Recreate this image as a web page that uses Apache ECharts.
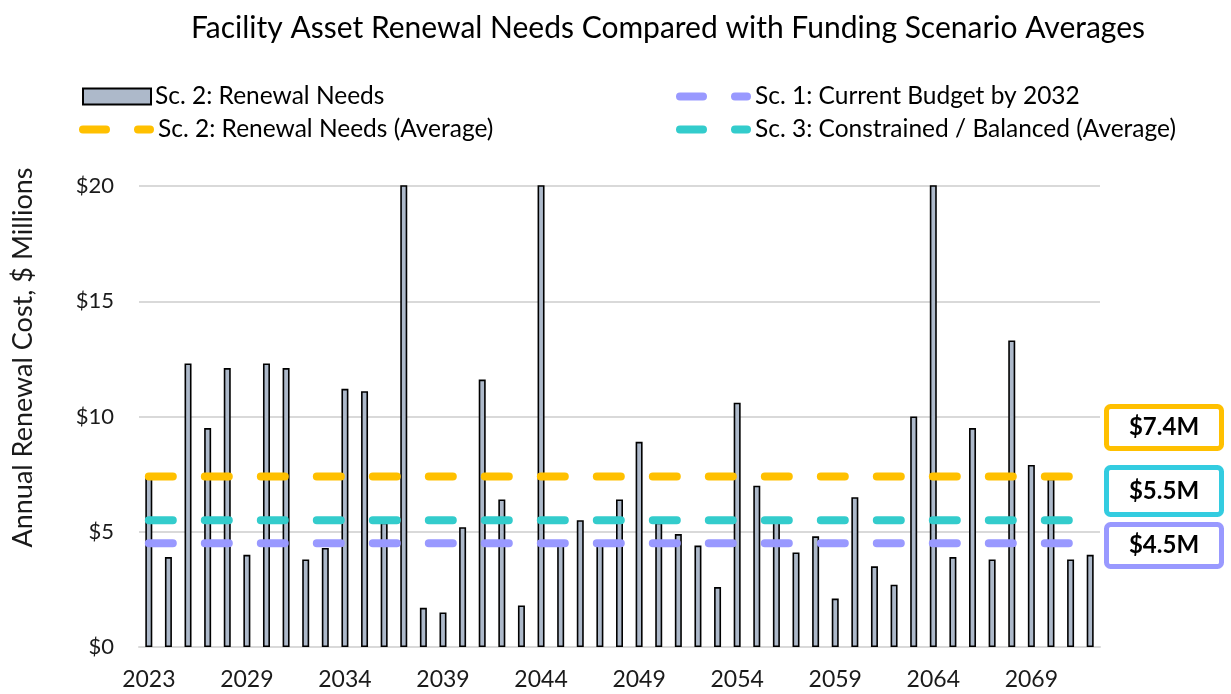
<!DOCTYPE html>
<html>
<head>
<meta charset="utf-8">
<script src="https://cdn.jsdelivr.net/npm/echarts@6/dist/echarts.min.js"></script>
<style>
  html, body { margin: 0; padding: 0; background: #fff; }
  #chart { width: 1231px; height: 694px; }
</style>
</head>
<body>
<div id="chart"></div>
<script>
// Renewal years (category axis)
const years = ['2023'];
for (let y = 2025; y <= 2072; y++) years.push(String(y));

// Annual renewal needs, $ millions (values above 20 run off the top of the axis)
const renewalNeeds = [
  7.4, 3.9, 12.3, 9.5, 12.1, 4.0, 12.3, 12.1, 3.8, 4.3,
  11.2, 11.1, 5.4, 24.0, 1.7, 1.5, 5.2, 11.6, 6.4, 1.8,
  24.0, 4.6, 5.5, 4.6, 6.4, 8.9, 5.4, 4.9, 4.4, 2.6,
  10.6, 7.0, 5.6, 4.1, 4.8, 2.1, 6.5, 3.5, 2.7, 10.0,
  24.0, 3.9, 9.5, 3.8, 13.3, 7.9, 7.3, 3.8, 4.0
];

// Scenario averages, $ millions
const avgRenewalNeeds = 7.4;
const avgCurrentBudget = 4.5;
const avgConstrained = 5.5;

const seriesNames = [
  'Sc. 2: Renewal Needs',
  'Sc. 2: Renewal Needs (Average)',
  'Sc. 1: Current Budget by 2032',
  'Sc. 3: Constrained / Balanced (Average)'
];

const yTicks = [0, 5, 10, 15, 20];

const FONT = 'Lato, "Noto Sans", sans-serif';
const YELLOW = '#FFC000';
const TEAL = '#33CCCC';
const TEAL_BOX = '#33CCE0';
const PURPLE = '#9999FF';
const BAR_FILL = '#ADB9CA';

// Legend glyph for the dashed average lines: one long and one short rounded dash
const DASH_ICON = 'path://M4,0H27A4,4,0,0,1,27,8H4A4,4,0,0,1,4,0ZM59,0H71A4,4,0,0,1,71,8H59A4,4,0,0,1,59,0Z';

const chart = echarts.init(document.getElementById('chart'), null, { renderer: 'canvas' });

function avgLine(name, value, color) {
  return {
    name: name,
    type: 'line',
    data: [[years[0], value], [years[years.length - 1], value]],
    showSymbol: false,
    symbol: 'none',
    silent: true,
    z: 3,
    lineStyle: { color: color, width: 8, type: [24, 32], cap: 'round' },
    itemStyle: { color: color }
  };
}

function legendAt(name, left, top, isBar) {
  return {
    data: [name],
    left: left,
    top: top,
    orient: 'horizontal',
    itemWidth: isBar ? 68 : 75,
    itemHeight: isBar ? 16 : 8,
    itemGap: 0,
    padding: 0,
    icon: isBar ? 'rect' : DASH_ICON,
    selectedMode: false,
    textStyle: { fontFamily: FONT, fontSize: 24.5, color: '#000', padding: [0, 0, 0, -1] },
    itemStyle: isBar ? { borderColor: '#000', borderWidth: 2 } : { borderWidth: 0 }
  };
}

function valueBox(value, color, top, height) {
  return {
    type: 'group',
    left: 1104,
    top: top,
    children: [
      {
        type: 'rect',
        shape: { x: 2.5, y: 2.5, width: 115, height: height - 5, r: 4 },
        style: { fill: '#fff', stroke: color, lineWidth: 5 }
      },
      {
        type: 'text',
        x: 60,
        y: height / 2,
        style: {
          text: '$' + value.toFixed(1) + 'M',
          fontFamily: FONT,
          fontWeight: 'bold',
          fontSize: 24,
          fill: '#000',
          align: 'center',
          verticalAlign: 'middle'
        }
      }
    ]
  };
}

const option = {
  backgroundColor: '#fff',
  animation: false,
  title: {
    text: 'Facility Asset Renewal Needs Compared with Funding Scenario Averages',
    left: 663,
    textAlign: 'center',
    top: 8,
    textStyle: { fontFamily: FONT, fontSize: 30, fontWeight: 'normal', color: '#000' }
  },
  legend: [
    legendAt(seriesNames[0], 82, 84, true),
    legendAt(seriesNames[1], 79, 117, false),
    legendAt(seriesNames[2], 676, 84, false),
    legendAt(seriesNames[3], 676, 117, false)
  ],
  grid: { left: 139, right: 131, top: 186, bottom: 47, containLabel: false },
  xAxis: {
    type: 'category',
    data: years,
    boundaryGap: true,
    axisLine: { show: true, lineStyle: { color: '#D9D9D9', width: 2 } },
    axisTick: { show: false },
    axisLabel: {
      interval: 4,
      fontFamily: FONT,
      fontSize: 23,
      color: '#1a1a1a',
      margin: 21
    }
  },
  yAxis: {
    type: 'value',
    min: yTicks[0],
    max: yTicks[yTicks.length - 1],
    interval: 5,
    name: 'Annual Renewal Cost, $ Millions',
    nameLocation: 'middle',
    nameGap: 102,
    nameRotate: 90,
    nameTextStyle: { fontFamily: FONT, fontSize: 27, color: '#1a1a1a', padding: [0, 0, 0, 118] },
    axisLine: { show: false },
    axisTick: { show: false },
    splitLine: { lineStyle: { color: '#D9D9D9', width: 2 } },
    axisLabel: {
      fontFamily: FONT,
      fontSize: 22,
      color: '#1a1a1a',
      margin: 25,
      formatter: v => '$' + v
    }
  },
  series: [
    {
      name: seriesNames[0],
      type: 'bar',
      data: renewalNeeds,
      barWidth: 7,
      clip: true,
      z: 2,
      itemStyle: { color: BAR_FILL, borderColor: '#000', borderWidth: 1.6 }
    },
    avgLine(seriesNames[1], avgRenewalNeeds, YELLOW),
    avgLine(seriesNames[2], avgCurrentBudget, PURPLE),
    avgLine(seriesNames[3], avgConstrained, TEAL)
  ],
  graphic: [
    valueBox(avgRenewalNeeds, YELLOW, 404, 47),
    valueBox(avgConstrained, TEAL_BOX, 465, 52),
    valueBox(avgCurrentBudget, PURPLE, 522, 47)
  ]
};

chart.setOption(option);
</script>
</body>
</html>
